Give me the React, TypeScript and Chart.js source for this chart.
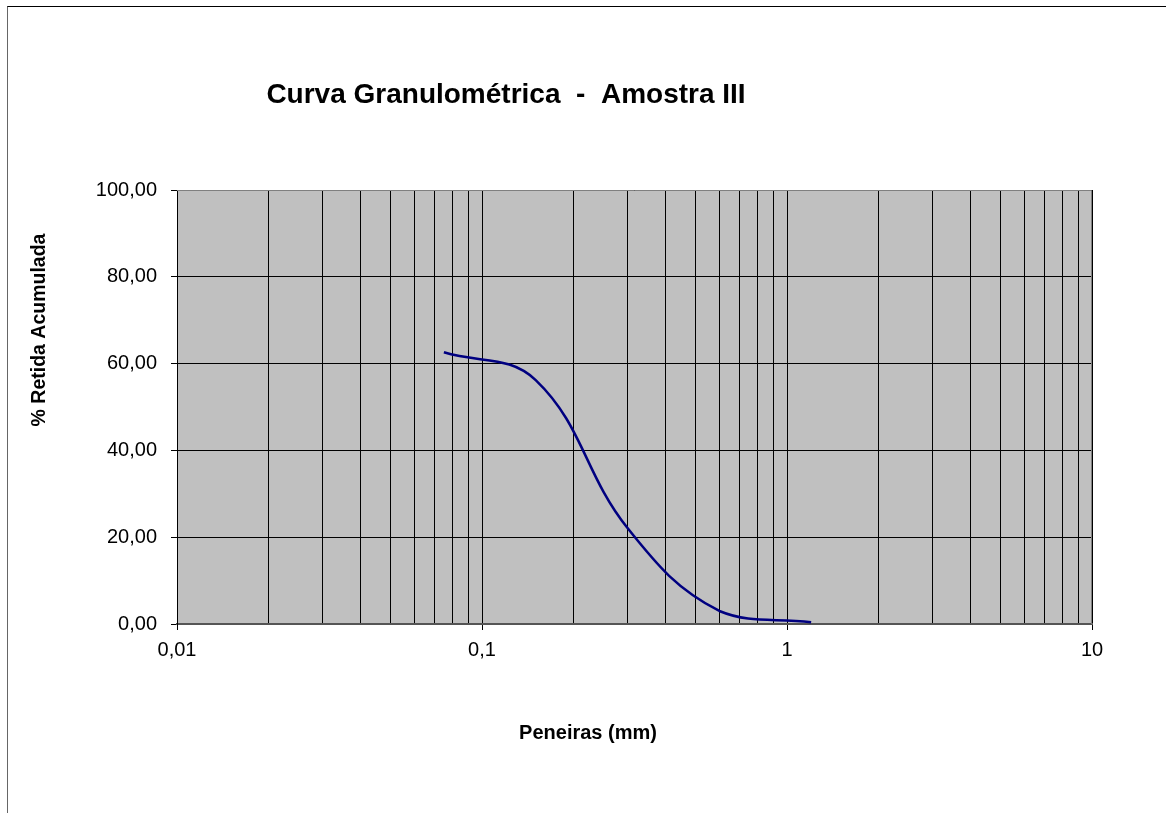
import React, { useEffect, useRef } from "react";
import { Chart, registerables } from "chart.js";

Chart.register(...registerables);

const chartTitle = "Curva Granulométrica  -  Amostra III";
const xAxisTitle = "Peneiras (mm)";
const yAxisTitle = "% Retida Acumulada";

// sieve openings (mm) and cumulative retained (%)
const sieveSizes = [0.075, 0.15, 0.3, 0.6, 1.2];
const retainedPct = [62.6, 56.2, 22.1, 3.0, 0.4];

const xTickValues = [
  0.01, 0.02, 0.03, 0.04, 0.05, 0.06, 0.07, 0.08, 0.09,
  0.1, 0.2, 0.3, 0.4, 0.5, 0.6, 0.7, 0.8, 0.9,
  1, 2, 3, 4, 5, 6, 7, 8, 9,
  10,
];
const yTickValues = [0, 20, 40, 60, 80, 100];

const FONT = "'Liberation Sans', Arial, Helvetica, sans-serif";

const isDecade = (v: number) => {
  const l = Math.log10(v);
  return Math.abs(l - Math.round(l)) < 1e-9;
};

const plotBackground = {
  id: "plotBackground",
  beforeDraw(chart: any) {
    const { ctx, chartArea } = chart;
    ctx.save();
    ctx.fillStyle = "#C0C0C0";
    ctx.fillRect(chartArea.left, chartArea.top, chartArea.right - chartArea.left, chartArea.bottom - chartArea.top);
    ctx.restore();
  },
  afterDatasetsDraw(chart: any) {
    const { ctx, chartArea } = chart;
    ctx.save();
    ctx.strokeStyle = "#808080";
    ctx.lineWidth = 1;
    ctx.beginPath();
    ctx.moveTo(chartArea.left, chartArea.top + 0.5);
    ctx.lineTo(chartArea.right - 0.5, chartArea.top + 0.5);
    ctx.lineTo(chartArea.right - 0.5, chartArea.bottom);
    ctx.stroke();
    ctx.restore();
  },
};

const titlesPlugin = {
  id: "customTitles",
  afterDraw(chart: any) {
    const { ctx } = chart;
    ctx.save();
    ctx.fillStyle = "#000";
    ctx.textAlign = "center";
    ctx.textBaseline = "alphabetic";
    ctx.font = `bold 28px ${FONT}`;
    ctx.fillText(chartTitle, 506, 103);

    ctx.font = `bold 20px ${FONT}`;
    ctx.textBaseline = "middle";
    ctx.fillText(xAxisTitle, 588, 733);

    ctx.font = `bold 19.5px ${FONT}`;
    ctx.translate(40, 330);
    ctx.rotate(-Math.PI / 2);
    ctx.fillText(yAxisTitle, 0, 0);
    ctx.restore();
  },
};

export default function App() {
  const ref = useRef<HTMLCanvasElement | null>(null);

  useEffect(() => {
    if (!ref.current) return;
    const chart = new Chart(ref.current, {
      type: "line",
      data: {
        datasets: [
          {
            label: "Amostra III",
            data: sieveSizes.map((x, i) => ({ x, y: retainedPct[i] })),
            borderColor: "#000080",
            borderWidth: 2.5,
            pointRadius: 0,
            tension: 0.4,
            fill: false,
          },
        ],
      },
      options: {
        animation: false,
        responsive: false,
        devicePixelRatio: 1,
        layout: { padding: { left: 0, top: 190, right: 74, bottom: 0 } },
        plugins: {
          legend: { display: false },
          tooltip: { enabled: false },
          title: { display: false },
        },
        scales: {
          x: {
            type: "logarithmic",
            min: 0.01,
            max: 10,
            afterBuildTicks: (scale: any) => {
              scale.ticks = xTickValues.map((v) => ({ value: v, major: isDecade(v) }));
            },
            afterFit: (scale: any) => {
              scale.height = 813 - 624;
            },
            ticks: {
              autoSkip: false,
              maxRotation: 0,
              minRotation: 0,
              padding: 8,
              color: "#000",
              font: { family: FONT, size: 20 },
              callback: (value: any) => (isDecade(Number(value)) ? String(Number(value)).replace(".", ",") : ""),
            },
            grid: {
              color: "#000",
              lineWidth: 1,
              tickLength: 6,
              tickColor: (ctx: any) => (ctx.tick && isDecade(ctx.tick.value) ? "#000" : "rgba(0,0,0,0)"),
            },
            border: { display: true, color: "#555", width: 2 },
            title: { display: false },
          },
          y: {
            type: "linear",
            min: 0,
            max: 100,
            afterBuildTicks: (scale: any) => {
              scale.ticks = yTickValues.map((v) => ({ value: v }));
            },
            afterFit: (scale: any) => {
              scale.width = 177;
            },
            ticks: {
              padding: 14,
              color: "#000",
              font: { family: FONT, size: 20 },
              callback: (value: any) => Number(value).toFixed(2).replace(".", ","),
            },
            grid: {
              color: "#000",
              lineWidth: 1,
              tickLength: 6,
              tickColor: "#000",
            },
            border: { display: true, color: "#000", width: 1 },
            title: { display: false },
          },
        },
      },
      plugins: [plotBackground, titlesPlugin],
    });
    return () => chart.destroy();
  }, []);

  return (
    <div style={{ position: "fixed", left: 0, top: 0, width: 1166, height: 813, background: "#fff", overflow: "hidden" }}>
      <div
        style={{
          position: "absolute",
          left: 7,
          top: 6,
          width: 2000,
          height: 2000,
          borderTop: "1px solid #000",
          borderLeft: "1px solid #666",
        }}
      />
      <canvas ref={ref} width={1166} height={813} style={{ position: "absolute", left: 0, top: 0, width: 1166, height: 813 }} />
    </div>
  );
}
